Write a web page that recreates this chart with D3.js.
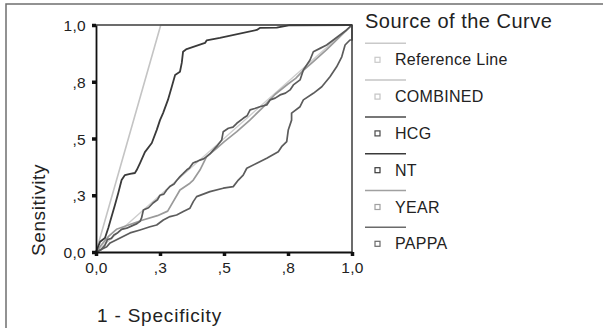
<!DOCTYPE html>
<html>
<head>
<meta charset="utf-8">
<script src="https://cdn.jsdelivr.net/npm/d3@7"></script>
<style>
  body { margin: 0; background: #fff; }
  svg { display: block; font-family: "Liberation Sans", Arial, sans-serif; }
</style>
</head>
<body>
<svg id="chart" width="603" height="328"></svg>
<script>
// axis ticks (SPSS rounds the quarter ticks to one decimal)
var tickValues = [0, 0.25, 0.5, 0.75, 1];
var tickLabels = ['0,0', ',3', ',5', ',8', '1,0'];

// ROC curves, [1 - specificity, sensitivity]
var referenceLine = [[0, 0], [1, 1]];
var combined = [[0, 0], [0.253, 1], [1, 1]];
var hcg = [[0, 0], [0.02, 0.01], [0.035, 0.03], [0.045, 0.055], [0.06, 0.06], [0.07, 0.075],
    [0.085, 0.085], [0.1, 0.1], [0.12, 0.105], [0.14, 0.115], [0.16, 0.125], [0.172, 0.135],
    [0.178, 0.15], [0.185, 0.185], [0.205, 0.195], [0.223, 0.216], [0.24, 0.23], [0.25, 0.25],
    [0.265, 0.255], [0.276, 0.273], [0.29, 0.29], [0.305, 0.3], [0.315, 0.315], [0.328, 0.332],
    [0.34, 0.345], [0.354, 0.361], [0.365, 0.37], [0.379, 0.392], [0.392, 0.398], [0.406, 0.405],
    [0.42, 0.41], [0.432, 0.42], [0.445, 0.432], [0.458, 0.449], [0.475, 0.47], [0.491, 0.493],
    [0.497, 0.53], [0.517, 0.545], [0.535, 0.55], [0.55, 0.567], [0.575, 0.589], [0.59, 0.6],
    [0.602, 0.626], [0.62, 0.632], [0.64, 0.64], [0.667, 0.648], [0.68, 0.67], [0.7, 0.678],
    [0.719, 0.692], [0.74, 0.7], [0.758, 0.714], [0.771, 0.736], [0.797, 0.758], [0.81, 0.802],
    [0.836, 0.846], [0.849, 0.882], [0.875, 0.897], [0.901, 0.912], [0.927, 0.934],
    [0.953, 0.956], [0.979, 0.978], [1, 1]];
var nt = [[0, 0], [0.016, 0.045], [0.035, 0.062], [0.048, 0.106], [0.055, 0.133], [0.074, 0.207],
    [0.087, 0.26], [0.1, 0.317], [0.113, 0.339], [0.133, 0.344], [0.152, 0.348], [0.159, 0.361],
    [0.172, 0.392], [0.191, 0.44], [0.218, 0.48], [0.237, 0.537], [0.25, 0.581], [0.262, 0.612],
    [0.281, 0.67], [0.296, 0.728], [0.309, 0.78], [0.328, 0.794], [0.335, 0.833], [0.34, 0.882],
    [0.354, 0.894], [0.426, 0.921], [0.432, 0.932], [0.484, 0.943], [0.628, 0.978],
    [0.64, 0.987], [0.706, 0.988], [0.758, 0.999], [1, 1]];
var year = [[0, 0], [0.02, 0.03], [0.05, 0.07], [0.08, 0.1], [0.13, 0.12], [0.18, 0.14],
    [0.24, 0.16], [0.28, 0.18], [0.328, 0.273], [0.367, 0.303], [0.38, 0.317], [0.406, 0.361],
    [0.432, 0.42], [0.47, 0.455], [0.5, 0.485], [0.55, 0.53], [0.6, 0.58], [0.65, 0.635],
    [0.7, 0.695], [0.75, 0.74], [0.78, 0.765], [0.81, 0.8], [0.85, 0.84], [0.9, 0.89],
    [0.95, 0.945], [1, 1]];
var pappa = [[0, 0], [0.016, 0.009], [0.042, 0.023], [0.055, 0.04], [0.094, 0.062],
    [0.133, 0.084], [0.172, 0.097], [0.211, 0.111], [0.237, 0.119], [0.263, 0.141],
    [0.289, 0.156], [0.315, 0.163], [0.341, 0.178], [0.367, 0.193], [0.38, 0.222],
    [0.393, 0.244], [0.445, 0.266], [0.497, 0.281], [0.536, 0.288], [0.556, 0.317],
    [0.575, 0.339], [0.589, 0.369], [0.628, 0.391], [0.667, 0.413], [0.712, 0.442],
    [0.725, 0.464], [0.745, 0.486], [0.751, 0.537], [0.764, 0.581], [0.764, 0.612],
    [0.797, 0.64], [0.81, 0.67], [0.849, 0.699], [0.882, 0.728], [0.914, 0.772],
    [0.94, 0.816], [0.96, 0.86], [0.973, 0.912], [0.992, 0.934], [1, 0.934], [1, 1]];

var legendNames = ['Reference Line', 'COMBINED', 'HCG', 'NT', 'YEAR', 'PAPPA'];
var legendColors = ['#c9c9c9', '#c4c4c4', '#4a4a4a', '#3a3a3a', '#a0a0a0', '#6a6a6a'];

var series = [
    { data: referenceLine, color: '#cdcdcd', width: 1.4 },
    { data: combined, color: '#c4c4c4', width: 1.6 },
    { data: year, color: '#9a9a9a', width: 1.7 },
    { data: pappa, color: '#5c5c5c', width: 1.7 },
    { data: hcg, color: '#5a5a5a', width: 1.7 },
    { data: nt, color: '#3a3a3a', width: 1.8 }
];

var svg = d3.select('#chart');

var plot = { left: 96, top: 25, right: 352, bottom: 252 };

var x = d3.scaleLinear().domain([0, 1]).range([plot.left, plot.right]);
var y = d3.scaleLinear().domain([0, 1]).range([plot.bottom, plot.top]);

// outer frame, only left and top edges fall inside the picture
svg.append('path')
    .attr('d', 'M6,330 L6,4 L605,4')
    .style('fill', 'none')
    .style('stroke', '#6f6f6f')
    .style('stroke-width', 1.5);

var line = d3.line()
    .x(function (d) { return x(d[0]); })
    .y(function (d) { return y(d[1]); });

svg.append('g').selectAll('path')
    .data(series)
    .join('path')
    .attr('d', function (s) { return line(s.data); })
    .style('fill', 'none')
    .style('stroke', function (s) { return s.color; })
    .style('stroke-width', function (s) { return s.width; })
    .style('stroke-linejoin', 'round');

// top and right edges of the plot box
svg.append('path')
    .attr('d', 'M' + x(0) + ',' + y(1) + 'L' + x(1) + ',' + y(1) + 'L' + x(1) + ',' + y(0))
    .style('fill', 'none')
    .style('stroke', '#3c3c3c')
    .style('stroke-width', 1.5);

var xAxis = svg.append('g')
    .attr('transform', 'translate(0,' + plot.bottom + ')')
    .call(d3.axisBottom(x).tickValues(tickValues)
        .tickFormat(function (d, i) { return tickLabels[i]; })
        .tickSizeInner(4).tickSizeOuter(0).tickPadding(6));

var yAxis = svg.append('g')
    .attr('transform', 'translate(' + plot.left + ',0)')
    .call(d3.axisLeft(y).tickValues(tickValues)
        .tickFormat(function (d, i) { return tickLabels[i]; })
        .tickSizeInner(4).tickSizeOuter(0).tickPadding(6));

[xAxis, yAxis].forEach(function (ax) {
    ax.select('.domain').style('stroke', '#111').style('stroke-width', 1.8);
    ax.selectAll('.tick line').style('stroke', '#111').style('stroke-width', 3.5);
    ax.selectAll('.tick text')
        .style('font-family', '"Liberation Sans", Arial, sans-serif')
        .style('font-size', '15.5px')
        .style('letter-spacing', '0.3px')
        .style('fill', '#222');
});
yAxis.selectAll('.tick text').attr('dy', '0.36em');

svg.append('text')
    .attr('transform', 'translate(45,210) rotate(-90)')
    .attr('text-anchor', 'middle')
    .style('font-size', '19px')
    .style('letter-spacing', '0.6px')
    .style('fill', '#222')
    .text('Sensitivity');

svg.append('text')
    .attr('x', 97)
    .attr('y', 322)
    .style('font-size', '19px')
    .style('letter-spacing', '0.8px')
    .style('fill', '#222')
    .text('1 - Specificity');

// legend
var legend = svg.append('g').attr('transform', 'translate(365,0)');

legend.append('text')
    .attr('x', 0)
    .attr('y', 28)
    .style('font-size', '20px')
    .style('letter-spacing', '0.5px')
    .style('fill', '#222')
    .text('Source of the Curve');

var items = legend.selectAll('g.item')
    .data(legendNames)
    .join('g')
    .attr('class', 'item')
    .attr('transform', function (d, i) { return 'translate(0,' + (43.3 + i * 36.8) + ')'; });

items.append('line')
    .attr('x1', 0).attr('x2', 41)
    .attr('y1', 0).attr('y2', 0)
    .style('stroke', function (d, i) { return legendColors[i]; })
    .style('stroke-width', 1.5);

items.append('rect')
    .attr('x', 10).attr('y', 14)
    .attr('width', 5).attr('height', 5)
    .style('fill', 'none')
    .style('stroke', function (d, i) { return legendColors[i]; })
    .style('stroke-width', 1.2);

items.append('text')
    .attr('x', 30)
    .attr('y', 22)
    .style('font-size', '16px')
    .style('letter-spacing', '0.3px')
    .style('fill', '#222')
    .text(function (d) { return d; });
</script>
</body>
</html>
